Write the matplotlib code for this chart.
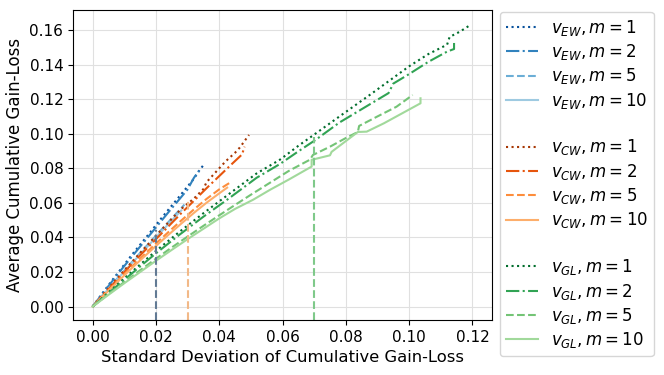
import numpy as np
import matplotlib.pyplot as plt

#- Datos
ew1_x = [0, 0.003, 0.006, 0.009, 0.012, 0.015, 0.018, 0.021, 0.024, 0.027, 0.030, 0.032, 0.0335, 0.0349]
ew1_y = [0, 0.0075, 0.0148, 0.0219, 0.0290, 0.0358, 0.0425, 0.0495, 0.0562, 0.0628, 0.0695, 0.0740, 0.0782, 0.0816]
ew2_x = [0, 0.003, 0.006, 0.009, 0.012, 0.015, 0.018, 0.021, 0.024, 0.027, 0.030, 0.032, 0.0336]
ew2_y = [0, 0.0072, 0.0142, 0.0212, 0.0280, 0.0347, 0.0413, 0.0480, 0.0547, 0.0612, 0.0678, 0.0745, 0.0785]
ew5_x = [0, 0.005, 0.010, 0.015, 0.020, 0.025, 0.029]
ew5_y = [0, 0.0105, 0.0208, 0.0310, 0.0410, 0.0510, 0.0590]
ew10_x = [0, 0.005, 0.010, 0.015, 0.020, 0.025, 0.028]
ew10_y = [0, 0.0102, 0.0203, 0.0302, 0.0400, 0.0498, 0.0556]

cw1_x = [0, 0.004, 0.008, 0.012, 0.016, 0.020, 0.024, 0.028, 0.032, 0.035, 0.036, 0.039, 0.042, 0.045, 0.0465, 0.0494]
cw1_y = [0, 0.0085, 0.0168, 0.0250, 0.0330, 0.0410, 0.0488, 0.0565, 0.0625, 0.0680, 0.0720, 0.0780, 0.0840, 0.0890, 0.0920, 0.0993]
cw2_x = [0, 0.004, 0.008, 0.012, 0.016, 0.020, 0.024, 0.028, 0.032, 0.036, 0.040, 0.044, 0.0472, 0.0480]
cw2_y = [0, 0.0081, 0.0160, 0.0238, 0.0315, 0.0390, 0.0465, 0.0540, 0.0612, 0.0685, 0.0755, 0.0825, 0.0880, 0.0925]
cw5_x = [0, 0.004, 0.008, 0.012, 0.016, 0.020, 0.024, 0.028, 0.032, 0.036, 0.040, 0.0434]
cw5_y = [0, 0.0076, 0.0151, 0.0224, 0.0295, 0.0365, 0.0432, 0.0498, 0.0562, 0.0623, 0.0678, 0.0717]
cw10_x = [0, 0.004, 0.008, 0.012, 0.016, 0.020, 0.024, 0.028, 0.032, 0.036, 0.040, 0.0425]
cw10_y = [0, 0.0073, 0.0145, 0.0216, 0.0284, 0.0351, 0.0416, 0.0480, 0.0542, 0.0601, 0.0655, 0.0688]

gl1_x = [0, 0.005, 0.010, 0.015, 0.020, 0.0276, 0.035, 0.043, 0.0518, 0.0592, 0.065, 0.070, 0.078, 0.088, 0.094, 0.100, 0.106, 0.112, 0.1128, 0.116, 0.119]
gl1_y = [0, 0.0082, 0.0163, 0.0243, 0.0322, 0.0435, 0.0540, 0.0650, 0.0770, 0.0850, 0.0930, 0.0995, 0.1100, 0.1230, 0.1310, 0.1390, 0.1460, 0.1515, 0.1560, 0.1590, 0.1625]
gl2_x = [0, 0.005, 0.010, 0.015, 0.020, 0.0276, 0.035, 0.043, 0.0518, 0.0592, 0.065, 0.0705, 0.078, 0.0935, 0.095, 0.100, 0.106, 0.112, 0.1142, 0.1142]
gl2_y = [0, 0.0078, 0.0155, 0.0232, 0.0308, 0.0418, 0.0520, 0.0625, 0.0745, 0.0825, 0.0898, 0.0965, 0.1065, 0.1235, 0.1290, 0.1345, 0.1415, 0.1475, 0.1490, 0.1525]
gl5_x = [0, 0.005, 0.010, 0.015, 0.020, 0.025, 0.030, 0.035, 0.040, 0.045, 0.050, 0.056, 0.062, 0.0687, 0.0696, 0.075, 0.080, 0.0838, 0.0842, 0.090, 0.096, 0.1011]
gl5_y = [0, 0.0072, 0.0142, 0.0210, 0.0277, 0.0342, 0.0405, 0.0467, 0.0528, 0.0588, 0.0647, 0.0716, 0.0785, 0.0850, 0.0877, 0.0925, 0.0975, 0.1010, 0.1045, 0.1100, 0.1156, 0.1224]
gl10_x = [0, 0.005, 0.010, 0.015, 0.020, 0.025, 0.030, 0.035, 0.040, 0.045, 0.0507, 0.056, 0.062, 0.0692, 0.0692, 0.075, 0.0755, 0.0838, 0.0866, 0.092, 0.098, 0.1036, 0.1036]
gl10_y = [0, 0.0068, 0.0135, 0.0200, 0.0265, 0.0328, 0.0390, 0.0450, 0.0510, 0.0565, 0.0618, 0.0675, 0.0735, 0.0810, 0.0849, 0.0875, 0.0895, 0.1010, 0.1012, 0.1060, 0.1120, 0.1176, 0.1205]

#- lineas verticales
vl_x = [0.02, 0.03, 0.07]
vl_top = [0.0445, 0.061, 0.098]
vl_col = ['#627a94', '#f2b988', '#7fc98a']

estilos = [':', '-.', '--', '-']
m_vals = [1, 2, 5, 10]
grupos = [
    ('EW', [(ew1_x, ew1_y), (ew2_x, ew2_y), (ew5_x, ew5_y), (ew10_x, ew10_y)],
     ['#08519c', '#3182bd', '#6baed6', '#9ecae1']),
    ('CW', [(cw1_x, cw1_y), (cw2_x, cw2_y), (cw5_x, cw5_y), (cw10_x, cw10_y)],
     ['#a63603', '#e6550d', '#fd8d3c', '#fdae6b']),
    ('GL', [(gl1_x, gl1_y), (gl2_x, gl2_y), (gl5_x, gl5_y), (gl10_x, gl10_y)],
     ['#006d2c', '#31a354', '#74c476', '#a1d99b']),
]

fig, ax = plt.subplots(figsize=(6.64, 3.75), dpi=100)
fig.subplots_adjust(left=0.110, right=0.741, bottom=0.147, top=0.973)

ymin, ymax = -0.0077, 0.1715
handles = []
labels = []
for k, (nombre, series, colores) in enumerate(grupos):
    for (xs, ys), ls, c, m in zip(series, estilos, colores, m_vals):
        h, = ax.plot(xs, ys, ls=ls, c=c, lw=1.5)
        handles.append(h)
        labels.append(r'$v_{%s}, m = %d$' % (nombre, m))
    if k < 2:
        handles.append(plt.Line2D([], [], ls='none'))
        labels.append(' ')

for x0, y1, c in zip(vl_x, vl_top, vl_col):
    ax.plot([x0, x0], [ymin, y1], ls='--', c=c, lw=1.5)

ax.set_xlim(-0.0062, 0.1262)
ax.set_ylim(ymin, ymax)
ax.set_xticks(np.arange(0, 0.121, 0.02))
ax.set_yticks(np.arange(0, 0.161, 0.02))
ax.grid(True, color='#e0e0e0', lw=0.8)
ax.set_axisbelow(True)
ax.tick_params(labelsize=11)
ax.set_xlabel('Standard Deviation of Cumulative Gain-Loss', fontsize=11.8)
ax.set_ylabel('Average Cumulative Gain-Loss', fontsize=12)

fig.legend(handles, labels, loc='upper left', bbox_to_anchor=(500/664, 1 - 12/375),
           fontsize=12, labelspacing=0.26, borderaxespad=0, handlelength=1.9,
           borderpad=0.35)

plt.savefig('out.png', dpi=100)
